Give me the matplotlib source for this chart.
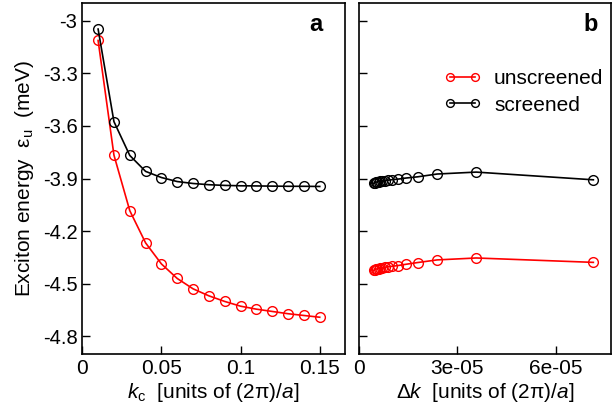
import matplotlib
matplotlib.use("Agg")
import matplotlib.pyplot as plt

plt.rcParams['font.family'] = ['Liberation Sans', 'DejaVu Sans']
plt.rcParams['mathtext.fontset'] = 'custom'
plt.rcParams['mathtext.rm'] = 'Liberation Sans'
plt.rcParams['mathtext.it'] = 'Liberation Sans:italic'
plt.rcParams['mathtext.bf'] = 'Liberation Sans:bold'

# Panel a: cutoff k_c
kc = [0.01, 0.02, 0.03, 0.04, 0.05, 0.06, 0.07, 0.08, 0.09, 0.10, 0.11, 0.12, 0.13, 0.14, 0.15]
a_unscreened = [-3.112, -3.766, -4.083, -4.267, -4.387, -4.470, -4.529, -4.569, -4.601,
                -4.628, -4.645, -4.658, -4.671, -4.681, -4.691]
a_screened = [-3.047, -3.575, -3.768, -3.859, -3.894, -3.917, -3.928, -3.935, -3.939,
              -3.941, -3.942, -3.943, -3.944, -3.944, -3.945]

# Panel b: grid spacing Δk
dk = [7.14e-05, 3.57e-05, 2.38e-05, 1.785e-05, 1.428e-05, 1.19e-05, 1.02e-05, 8.93e-06,
      7.93e-06, 7.14e-06, 6.49e-06, 5.95e-06, 5.49e-06, 5.10e-06, 4.76e-06, 4.46e-06]
b_unscreened = [-4.378, -4.353, -4.364, -4.379, -4.389, -4.396, -4.400, -4.403,
                -4.406, -4.409, -4.411, -4.413, -4.415, -4.417, -4.419, -4.424]
b_screened = [-3.907, -3.863, -3.874, -3.890, -3.897, -3.903, -3.906, -3.909,
              -3.911, -3.913, -3.915, -3.917, -3.919, -3.921, -3.923, -3.927]

yticks = [-3.0, -3.3, -3.6, -3.9, -4.2, -4.5, -4.8]
ytick_labels = ['-3', '-3.3', '-3.6', '-3.9', '-4.2', '-4.5', '-4.8']
xticks_a = [0, 0.05, 0.1, 0.15]
xtick_labels_a = ['0', '0.05', '0.1', '0.15']
xticks_b = [0, 3e-05, 6e-05]
xtick_labels_b = ['0', '3e-05', '6e-05']

fig = plt.figure(figsize=(6.14, 4.11), dpi=100)
ax1 = fig.add_axes([0.134, 0.139, 0.428, 0.853])
ax2 = fig.add_axes([0.5847, 0.139, 0.410, 0.853])

ms = 7
lw = 1.2
for ax in (ax1, ax2):
    ax.set_ylim(-4.9, -2.9)
    ax.set_yticks(yticks)
    ax.tick_params(direction='in', length=6, width=1, labelsize=14.5, right=False, top=False)
    ax.tick_params(axis='x', labelsize=15)
    for s in ax.spines.values():
        s.set_linewidth(1.2)

ax1.plot(kc, a_unscreened, '-', color='red', lw=lw, marker='o', ms=ms, mfc='none', mec='red', mew=1.0)
ax1.plot(kc, a_screened, '-', color='black', lw=lw, marker='o', ms=ms, mfc='none', mec='black', mew=1.0)
ax1.set_xlim(0, 0.166)
ax1.set_xticks(xticks_a)
ax1.set_xticklabels(xtick_labels_a)
ax1.set_yticklabels(ytick_labels)
ax1.set_xlabel(r'$k_\mathrm{c}$  [units of (2π)/$a$]', fontsize=15, labelpad=2)
ax1.set_ylabel(r'Exciton energy  ε$_\mathrm{u}$  (meV)', fontsize=15)
ax1.yaxis.set_label_coords(-0.175, 0.5)
ax1.text(0.89, 0.94, 'a', transform=ax1.transAxes, fontsize=17, fontweight='bold',
         ha='center', va='center')

ax2.plot(dk, b_unscreened, '-', color='red', lw=lw, marker='o', ms=ms, mfc='none', mec='red', mew=1.0,
         label='unscreened')
ax2.plot(dk, b_screened, '-', color='black', lw=lw, marker='o', ms=ms, mfc='none', mec='black', mew=1.0,
         label='screened')
ax2.set_xlim(0, 7.67e-05)
ax2.set_xticks(xticks_b)
ax2.set_xticklabels(xtick_labels_b)
ax2.set_yticklabels([])
ax2.set_xlabel(r'Δ$k$  [units of (2π)/$a$]', fontsize=15, labelpad=2)
ax2.text(0.922, 0.94, 'b', transform=ax2.transAxes, fontsize=17, fontweight='bold',
         ha='center', va='center')
ax2.legend(loc='upper right', bbox_to_anchor=(1.045, 0.865), frameon=False, fontsize=15,
           numpoints=2, handlelength=1.8, handletextpad=0.6, labelspacing=0.35, markerscale=0.8)

fig.savefig('out.png', dpi=100)
